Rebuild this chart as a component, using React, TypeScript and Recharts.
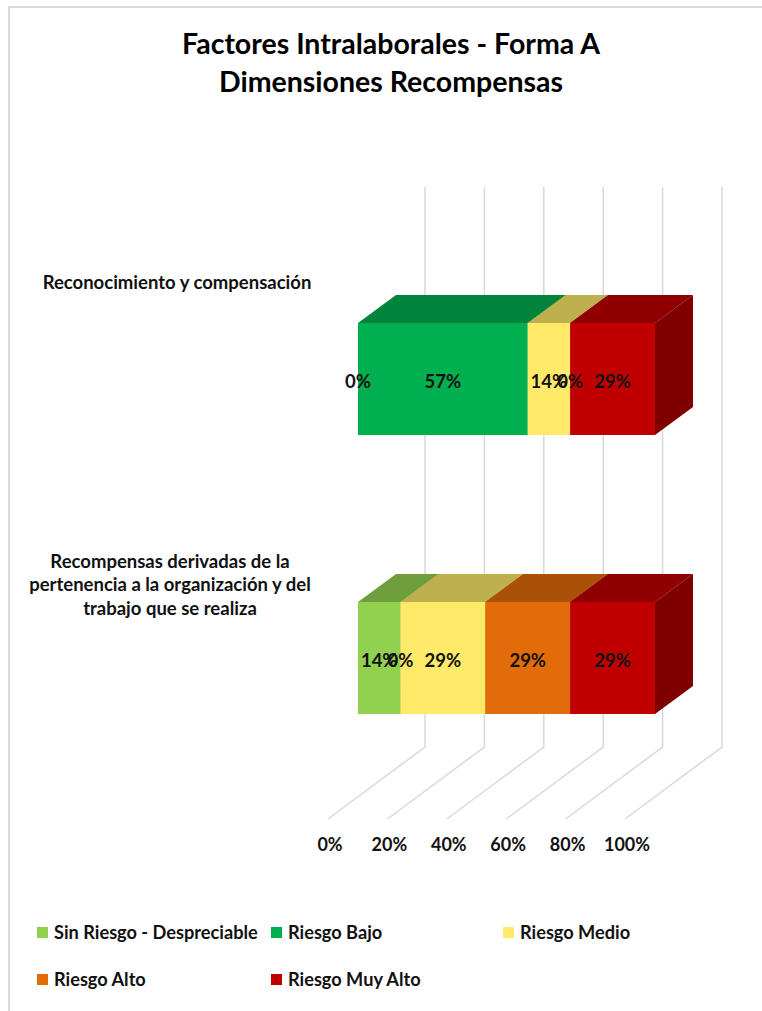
import { BarChart, Bar, XAxis, YAxis, CartesianGrid, LabelList } from 'recharts';

const TITLE_LINES = ['Factores Intralaborales - Forma A', 'Dimensiones Recompensas'];

const CATEGORIES = [
  'Reconocimiento y compensación',
  'Recompensas derivadas de la|pertenencia a la organización y del|trabajo que se realiza',
];

const SERIES_NAMES = ['Sin Riesgo - Despreciable', 'Riesgo Bajo', 'Riesgo Medio', 'Riesgo Alto', 'Riesgo Muy Alto'];
const FRONT_COLORS = ['#92D050', '#00B050', '#FFE969', '#E36C0A', '#C00000'];
const TOP_COLORS = ['#6F9F3D', '#00843C', '#BFB04F', '#AA5108', '#900000'];
const SIDE_COLORS = ['#618B35', '#007535', '#AA9C46', '#974807', '#800000'];

// percentages per category, same order as SERIES_NAMES
const SIN_RIESGO = [0, 14.29];
const RIESGO_BAJO = [57.14, 0];
const RIESGO_MEDIO = [14.29, 28.57];
const RIESGO_ALTO = [0, 28.57];
const RIESGO_MUY_ALTO = [28.57, 28.57];

const X_TICKS = [0, 20, 40, 60, 80, 100];

const SERIES_VALUES = [SIN_RIESGO, RIESGO_BAJO, RIESGO_MEDIO, RIESGO_ALTO, RIESGO_MUY_ALTO];
const SERIES_KEYS = ['sinRiesgo', 'bajo', 'medio', 'alto', 'muyAlto'];

const chartData = CATEGORIES.map((name, i) => {
  const row: Record<string, string | number> = { name };
  SERIES_KEYS.forEach((key, s) => {
    row[key] = SERIES_VALUES[s][i];
  });
  return row;
});

const FONT = 'Lato, sans-serif';
const GRID_COLOR = '#D9D9D9';

// bar extrusion, in pixels
const DEPTH_X = 38;
const DEPTH_Y = 28;

function Prism({ x, y, width, height, seriesIndex }: any) {
  if (!width || width <= 0) return null;
  const r = x + width;
  const b = y + height;
  return (
    <g>
      <polygon
        points={`${x},${y} ${x + DEPTH_X},${y - DEPTH_Y} ${r + DEPTH_X},${y - DEPTH_Y} ${r},${y}`}
        fill={TOP_COLORS[seriesIndex]}
      />
      <polygon
        points={`${r},${y} ${r + DEPTH_X},${y - DEPTH_Y} ${r + DEPTH_X},${b - DEPTH_Y} ${r},${b}`}
        fill={SIDE_COLORS[seriesIndex]}
      />
      <rect x={x} y={y} width={width} height={height} fill={FRONT_COLORS[seriesIndex]} />
    </g>
  );
}

// back wall line plus the diagonal across the floor
function GridLine({ x1, y1, y2 }: any) {
  const wallX = x1 + 67;
  const wallBottom = y2 - 50;
  return (
    <g fill="none" stroke={GRID_COLOR} strokeWidth={1.5}>
      <polyline points={`${wallX},${y1 - 52} ${wallX},${wallBottom} ${x1 - 30},${y2 + 22}`} />
    </g>
  );
}

function PercentTick({ x, y, payload }: any) {
  return (
    <text x={x - 28} y={y + 40} dy={6} textAnchor="middle" fontFamily={FONT} fontWeight={700} fontSize={18} fill="#111">
      {payload.value}%
    </text>
  );
}

function CategoryTick({ y, payload }: any) {
  const lines = String(payload.value).split('|');
  const centerX = lines.length > 1 ? 170 : 177;
  return (
    <text textAnchor="middle" fontFamily={FONT} fontWeight={700} fontSize={18.5} fill="#111">
      {lines.map((line, i) => (
        <tspan key={line} x={centerX} y={y - 90 + i * 23.5}>
          {line}
        </tspan>
      ))}
    </text>
  );
}

function LegendBlock() {
  return (
    <div style={{ position: 'absolute', left: 37, top: 920, width: 699, display: 'grid', gridTemplateColumns: '234px 232px 233px', rowGap: 23 }}>
      {SERIES_NAMES.map((name, i) => (
        <div key={name} style={{ display: 'flex', alignItems: 'center', height: 24, fontFamily: FONT, fontWeight: 700, fontSize: 18.2, color: '#111', whiteSpace: 'nowrap' }}>
          <span style={{ width: 11, height: 11, marginRight: 6, background: FRONT_COLORS[i], flexShrink: 0 }} />
          {name}
        </div>
      ))}
    </div>
  );
}

export default function App() {
  return (
    <div style={{ position: 'absolute', left: 0, top: 0, width: 762, height: 1011, background: '#fff', overflow: 'hidden' }}>
      {/* chart frame: only the top and left edges fall inside the page */}
      <div style={{ position: 'absolute', left: 8, top: 6, width: 800, height: 1100, border: '2px solid #D9D9D9' }} />

      <div style={{ position: 'absolute', left: 0, top: 24, width: 782, textAlign: 'center', fontFamily: FONT, fontWeight: 700, fontSize: 28.5, lineHeight: '38px', color: '#000' }}>
        {TITLE_LINES.map((line) => (
          <div key={line}>{line}</div>
        ))}
      </div>

      <div style={{ position: 'absolute', left: 0, top: 0 }}>
        <BarChart
          width={762}
          height={1011}
          data={chartData}
          layout="vertical"
          barSize={112}
          margin={{ top: 239, right: 107, bottom: 0, left: 0 }}
        >
          <CartesianGrid horizontal={false} vertical={(p: any) => <GridLine key={p.x1} {...p} />} syncWithTicks />
          <XAxis
            type="number"
            domain={[0, 100]}
            ticks={X_TICKS}
            interval={0}
            height={214}
            axisLine={false}
            tickLine={false}
            tick={<PercentTick />}
          />
          <YAxis type="category" dataKey="name" width={358} axisLine={false} tickLine={false} tick={<CategoryTick />} />
          {SERIES_KEYS.map((key, s) => (
            <Bar
              key={key}
              dataKey={key}
              name={SERIES_NAMES[s]}
              stackId="total"
              fill={FRONT_COLORS[s]}
              isAnimationActive={false}
              shape={(p: any) => <Prism {...p} seriesIndex={s} />}
            >
              <LabelList
                dataKey={key}
                position="center"
                formatter={(v: any) => `${Math.round(v)}%`}
                fill="#111"
                fontFamily={FONT}
                fontWeight={700}
                fontSize={18.5}
                dy={2}
              />
            </Bar>
          ))}
        </BarChart>
      </div>

      <LegendBlock />
    </div>
  );
}
